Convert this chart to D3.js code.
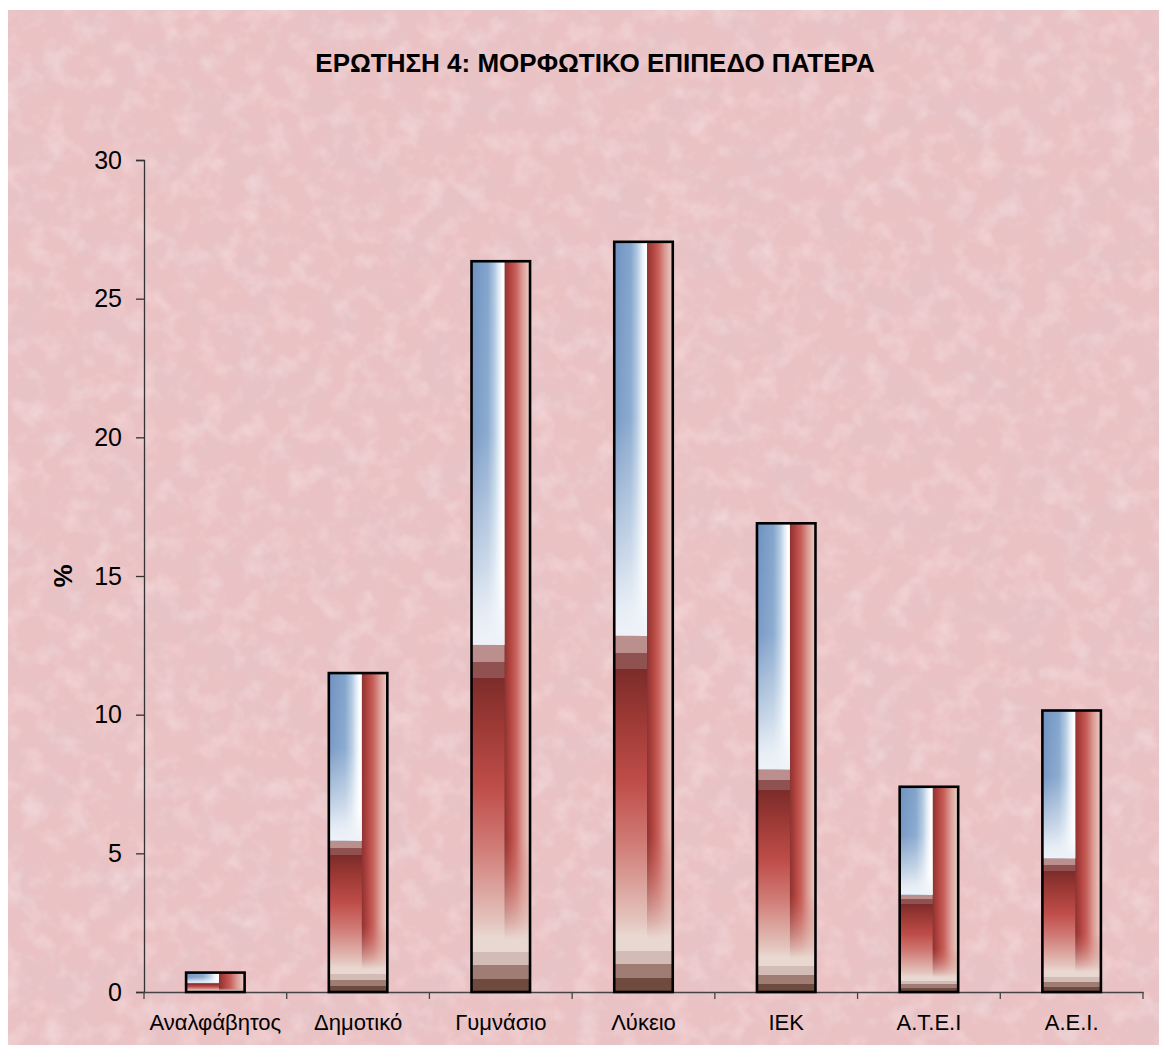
<!DOCTYPE html>
<html>
<head>
<meta charset="utf-8">
<script src="https://cdn.jsdelivr.net/npm/d3@7"></script>
<style>
  html, body { margin: 0; padding: 0; background: #ffffff; }
  svg { display: block; font-family: "Liberation Sans", Arial, sans-serif; }
</style>
</head>
<body>
<script>
// Father's education level, percent of respondents
const categories = ["Αναλφάβητος", "Δημοτικό", "Γυμνάσιο", "Λύκειο", "ΙΕΚ", "Α.Τ.Ε.Ι", "Α.Ε.Ι."];
const percents   = [0.7, 11.5, 26.35, 27.05, 16.9, 7.4, 10.15];
const yTicks     = [0, 5, 10, 15, 20, 25, 30];
const titleText  = "ΕΡΩΤΗΣΗ 4: ΜΟΡΦΩΤΙΚΟ ΕΠΙΠΕΔΟ ΠΑΤΕΡΑ";
const yLabel     = "%";

const W = 1159, H = 1045;
const plot = { left: 144, right: 1143, top: 160, bottom: 992 };

const svg = d3.select("body").append("svg")
  .attr("width", W).attr("height", H);

const defs = svg.append("defs");

// Paper-like pink texture: soft dark blotches with faint light flecks
const tex = defs.append("filter").attr("id", "paper")
  .attr("x", 0).attr("y", 0).attr("width", 1).attr("height", 1);
tex.append("feTurbulence").attr("type", "fractalNoise")
  .attr("baseFrequency", 0.022).attr("numOctaves", 4).attr("seed", 7).attr("result", "n");
tex.append("feColorMatrix").attr("in", "n").attr("type", "matrix")
  .attr("values", "0 0 0 0 0.76  0 0 0 0 0.55  0 0 0 0 0.58  1.3 0 0 0 -0.52")
  .attr("result", "dark");
tex.append("feTurbulence").attr("type", "fractalNoise")
  .attr("baseFrequency", 0.045).attr("numOctaves", 3).attr("seed", 21).attr("result", "n2");
tex.append("feColorMatrix").attr("in", "n2").attr("type", "matrix")
  .attr("values", "0 0 0 0 0.97  0 0 0 0 0.85  0 0 0 0 0.86  0.9 0 0 0 -0.42")
  .attr("result", "light");
tex.append("feMerge").call(m => {
  m.append("feMergeNode").attr("in", "dark");
  m.append("feMergeNode").attr("in", "light");
});

function linGrad(id, x1, y1, x2, y2, stops) {
  const g = defs.append("linearGradient").attr("id", id)
    .attr("x1", x1).attr("y1", y1).attr("x2", x2).attr("y2", y2);
  stops.forEach(([o, c, a]) => g.append("stop").attr("offset", o).attr("stop-color", c)
    .attr("stop-opacity", a === undefined ? 1 : a));
}

// Upper-left blue, fading to white to the right
linGrad("gBlue", 0, 0, 1, 0, [
  [0, "#6e91c1"], [0.5, "#84a5cc"], [0.7, "#b0c8e1"], [0.85, "#e4edf6"], [0.95, "#ffffff"], [1, "#ffffff"]
]);
// ...and whitening towards its lower edge
linGrad("gWhiten", 0, 0, 0, 1, [
  [0, "#ffffff", 0], [0.45, "#ffffff", 0.08], [0.8, "#ffffff", 0.6], [0.93, "#f3f6fa", 0.9], [1, "#eef2f8", 1]
]);
// Lower body: dark red to pale, brown bands at the foot
linGrad("gBody", 0, 0, 0, 1, [
  [0, "#e6dcdc"], [0.525, "#e6dcdc"], [0.525, "#bb8f8d"], [0.548, "#bb8f8d"],
  [0.548, "#8f5251"], [0.57, "#8f5251"], [0.57, "#7c2c2a"],
  [0.63, "#9a3834"], [0.72, "#bf4d49"], [0.8, "#d07a75"], [0.86, "#dca49e"],
  [0.905, "#e4c5be"], [0.925, "#e9d8d1"], [0.945, "#e9d8d1"],
  [0.945, "#d3bcb5"], [0.963, "#d3bcb5"], [0.963, "#9f7d75"], [0.982, "#9f7d75"],
  [0.982, "#6e4a3f"], [1, "#6e4a3f"]
]);
// Right strip: dark red edge to pale pink
linGrad("gRight", 0, 0, 1, 0, [
  [0, "#8a3331"], [0.22, "#b2433f"], [0.45, "#c8605b"], [0.7, "#db9c95"], [1, "#ecd0c8"]
]);
linGrad("gRightFade", 0, 0, 0, 1, [
  [0, "#ffffff"], [0.85, "#ffffff"], [1, "#000000"]
]);
const fadeMask = defs.append("mask").attr("id", "fadeMask")
  .attr("maskContentUnits", "objectBoundingBox");
fadeMask.append("rect").attr("width", 1).attr("height", 1).attr("fill", "url(#gRightFade)");

// Background
svg.append("rect").attr("x", 8).attr("y", 10).attr("width", W - 8).attr("height", H - 10)
  .attr("fill", "#ebc2c4");
svg.append("rect").attr("x", 8).attr("y", 10).attr("width", W - 8).attr("height", H - 10)
  .attr("filter", "url(#paper)").attr("fill", "#ebc2c4");

// Scales
const slot = d3.scaleBand().domain(categories).range([plot.left, plot.right]).padding(0);
const barW = slot.bandwidth() * 0.41;
const y = d3.scaleLinear().domain([0, 30]).range([plot.bottom, plot.top]);

// Title
svg.append("text").attr("x", 595).attr("y", 72).attr("text-anchor", "middle")
  .attr("font-size", 26).attr("font-weight", "bold").attr("fill", "#000")
  .text(titleText);

// Y axis
const yAxis = svg.append("g").attr("transform", `translate(${plot.left},0)`)
  .call(d3.axisLeft(y).tickValues(yTicks).tickSize(8).tickPadding(14).tickFormat(d3.format("d")));
yAxis.select(".domain").attr("stroke", "#333").attr("stroke-width", 1.3);
yAxis.selectAll(".tick line").attr("stroke", "#333").attr("stroke-width", 1.3);
yAxis.selectAll(".tick text").attr("font-size", 25).attr("fill", "#000")
  .attr("font-family", "Liberation Sans, Arial, sans-serif");

svg.append("text")
  .attr("transform", `translate(72,${(plot.top + plot.bottom) / 2}) rotate(-90)`)
  .attr("text-anchor", "middle").attr("font-size", 26).attr("font-weight", "bold")
  .text(yLabel);

// X axis with ticks between categories
const xAxis = svg.append("g").attr("transform", `translate(0,${plot.bottom})`)
  .call(d3.axisBottom(slot).tickSize(0).tickPadding(22));
xAxis.select(".domain").attr("stroke", "#444").attr("stroke-width", 1.6);
xAxis.selectAll(".tick text").attr("font-size", 22).attr("fill", "#000")
  .attr("font-family", "Liberation Sans, Arial, sans-serif");
const bounds = categories.map(c => slot(c)).concat([plot.right]);
xAxis.selectAll("line.sep").data(bounds).join("line").attr("class", "sep")
  .attr("x1", d => d).attr("x2", d => d).attr("y1", 0).attr("y2", 7)
  .attr("stroke", "#444").attr("stroke-width", 1.3);

// Bars
const bars = svg.append("g").selectAll("g.bar")
  .data(categories.map((c, i) => ({ c, v: percents[i] })))
  .join("g").attr("class", "bar");

bars.each(function (d) {
  const g = d3.select(this);
  const x0 = slot(d.c) + (slot.bandwidth() - barW) / 2;
  const top = y(d.v), h = y(0) - y(d.v);
  const split = barW * 0.56;
  g.append("rect").attr("x", x0).attr("y", top).attr("width", barW).attr("height", h)
    .attr("fill", "url(#gBody)");
  g.append("rect").attr("x", x0 + split).attr("y", top).attr("width", barW - split).attr("height", h * 0.93)
    .attr("fill", "url(#gRight)").attr("mask", "url(#fadeMask)");
  g.append("rect").attr("x", x0).attr("y", top).attr("width", split).attr("height", h * 0.525)
    .attr("fill", "url(#gBlue)");
  g.append("rect").attr("x", x0).attr("y", top).attr("width", split).attr("height", h * 0.525)
    .attr("fill", "url(#gWhiten)");
  g.append("rect").attr("x", x0).attr("y", top).attr("width", barW).attr("height", h)
    .attr("fill", "none").attr("stroke", "#000").attr("stroke-width", 2.6);
});
</script>
</body>
</html>
